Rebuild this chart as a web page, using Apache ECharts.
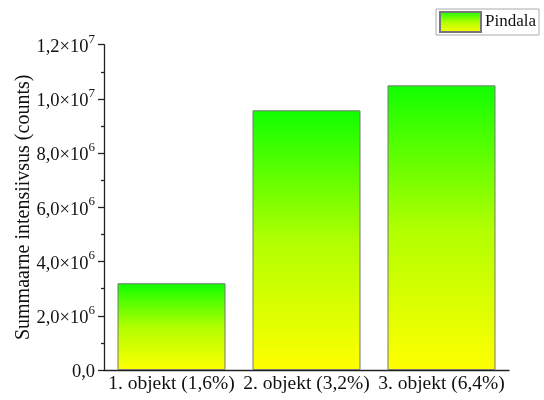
<!DOCTYPE html>
<html>
<head>
<meta charset="utf-8">
<style>
  html, body { margin: 0; padding: 0; background: #fff; }
  #chart { width: 544px; height: 400px; }
</style>
<script src="https://cdn.jsdelivr.net/npm/echarts@6/dist/echarts.min.js"></script>
</head>
<body>
<div id="chart"></div>
<script>
// Summed intensity per object
const categories = ['1. objekt (1,6%)', '2. objekt (3,2%)', '3. objekt (6,4%)'];
const pindala = [3.2e6, 9.58e6, 1.05e7];
const seriesName = 'Pindala';
const yAxisTitle = 'Summaarne intensiivsus (counts)';

const FONT = '"Liberation Serif", "Times New Roman", serif';

// Scientific label like 1,2×10⁷ with a raised exponent
function sciLabel(v) {
  if (v === 0) return '{b|0,0}';
  const exp = Math.floor(Math.log10(v) + 1e-9);
  const mant = (v / Math.pow(10, exp)).toFixed(1).replace('.', ',');
  return '{b|' + mant + '×10}{s|' + exp + '}';
}

const barGradient = {
  type: 'linear', x: 0, y: 0, x2: 0, y2: 1,
  colorStops: [
    { offset: 0, color: '#10ff00' },
    { offset: 0.5, color: '#b0ff00' },
    { offset: 1, color: '#ffff00' }
  ]
};

const chart = echarts.init(document.getElementById('chart'), null, { renderer: 'canvas' });
chart.setOption({
  animation: false,
  backgroundColor: '#fff',
  textStyle: { fontFamily: FONT, color: '#111' },
  legend: {
    right: 5, top: 9,
    padding: [2, 3, 2, 3],
    borderColor: '#aaa', borderWidth: 1,
    itemWidth: 41, itemHeight: 20, itemGap: 4,
    icon: 'rect',
    textStyle: { fontFamily: FONT, fontSize: 17, color: '#111', padding: [0, 0, 0, -1] },
    data: [seriesName]
  },
  grid: { left: 104, right: 35, top: 44.7, bottom: 30, containLabel: false, outerBoundsMode: 'none' },
  xAxis: [
    {
      type: 'category',
      data: categories,
      axisLine: { lineStyle: { color: '#222', width: 1.3 } },
      axisTick: { alignWithLabel: true, length: 6, lineStyle: { color: '#222', width: 1.3 } },
      axisLabel: { fontFamily: FONT, fontSize: 19.5, color: '#111', margin: 4, interval: 0 }
    },
    {
      type: 'category',
      data: categories,
      position: 'bottom',
      axisLine: { show: false },
      axisTick: { length: 3, lineStyle: { color: '#222', width: 1.3 } },
      axisLabel: { show: false }
    }
  ],
  yAxis: {
    type: 'value',
    min: 0, max: 1.2e7, interval: 2e6,
    name: yAxisTitle,
    nameLocation: 'middle',
    nameGap: 70,
    nameMoveOverlap: false,
    nameTextStyle: { fontFamily: FONT, fontSize: 20, color: '#111' },
    axisLine: { show: true, lineStyle: { color: '#222', width: 1.3 } },
    axisTick: { show: true, length: 6, lineStyle: { color: '#222', width: 1.3 } },
    minorTick: { show: true, splitNumber: 2, length: 3, lineStyle: { color: '#222', width: 1.3 } },
    splitLine: { show: false },
    axisLabel: {
      margin: 9,
      formatter: sciLabel,
      rich: {
        b: { fontFamily: FONT, fontSize: 18.5, color: '#111', lineHeight: 24, verticalAlign: 'bottom' },
        s: { fontFamily: FONT, fontSize: 13, color: '#111', lineHeight: 24, verticalAlign: 'top' }
      }
    }
  },
  series: [{
    name: seriesName,
    type: 'bar',
    data: pindala,
    barWidth: '80%',
    itemStyle: { color: barGradient, borderColor: '#777', borderWidth: 1 }
  }]
});
</script>
</body>
</html>
